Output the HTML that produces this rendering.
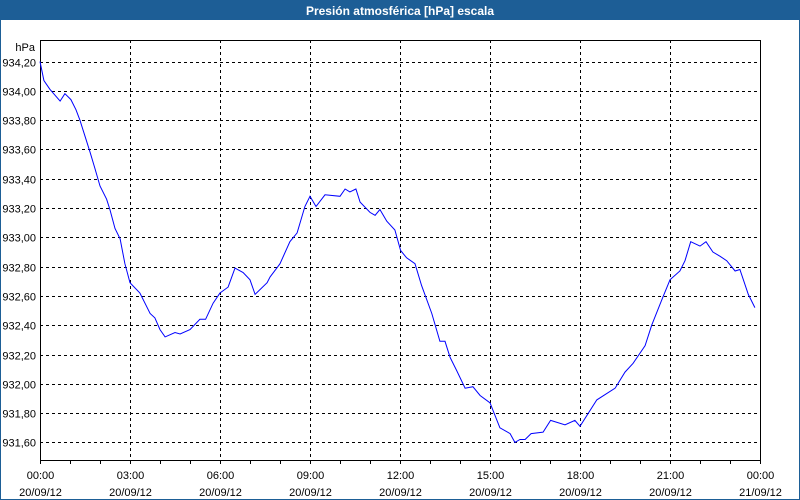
<!DOCTYPE html>
<html><head><meta charset="utf-8"><style>
body{margin:0;background:#fff}
svg{display:block;font-family:"Liberation Sans",Tahoma,sans-serif}
</style></head><body>
<svg id="c" width="800" height="500" xmlns="http://www.w3.org/2000/svg">
<rect x="0.5" y="0.5" width="799" height="499" fill="#fff" stroke="#1d5e96"/>
<rect x="0" y="0" width="800" height="20" fill="#1d5e96"/>
<text x="400" y="15" fill="#fff" font-size="12" font-weight="bold" text-anchor="middle">Presión atmosférica [hPa] escala</text>
<text x="35" y="51" font-size="11" text-anchor="end" fill="#000">hPa</text>
<g id="grid"></g>
<g id="axes"></g>
<polyline id="line" fill="none" stroke="#0000ff" stroke-width="1"/>
</svg>
<script>
const hours=[0,.13,.33,.67,.83,1.03,1.2,1.33,1.5,1.67,1.83,2,2.22,2.33,2.5,2.67,2.83,3,3.33,3.67,3.83,4,4.17,4.5,4.67,5,5.33,5.52,5.77,6,6.27,6.5,6.77,7,7.17,7.57,7.67,7.93,8,8.33,8.57,8.83,9,9.2,9.5,10,10.17,10.33,10.53,10.67,11,11.17,11.33,11.56,11.83,12.02,12.22,12.5,12.72,13.06,13.33,13.5,13.67,13.89,14.17,14.43,14.67,15,15.33,15.67,15.83,16,16.17,16.37,16.77,17.02,17.5,17.83,18,18.56,19.17,19.5,19.77,20.17,20.39,20.72,21,21.33,21.5,21.69,22,22.2,22.43,22.67,22.89,23.17,23.33,23.61,23.83];
const pressure=[934.20,934.07,934.01,933.93,933.98,933.94,933.87,933.80,933.69,933.58,933.47,933.35,933.26,933.19,933.06,932.99,932.82,932.69,932.62,932.48,932.45,932.37,932.32,932.35,932.34,932.37,932.44,932.44,932.55,932.62,932.66,932.79,932.76,932.71,932.61,932.69,932.73,932.80,932.82,932.97,933.03,933.21,933.28,933.21,933.29,933.28,933.33,933.31,933.33,933.24,933.17,933.15,933.19,933.11,933.05,932.91,932.86,932.82,932.67,932.48,932.29,932.29,932.18,932.09,931.97,931.98,931.92,931.87,931.70,931.66,931.60,931.62,931.62,931.66,931.67,931.75,931.72,931.75,931.71,931.89,931.97,932.08,932.14,932.26,932.40,932.57,932.71,932.77,932.84,932.97,932.94,932.97,932.90,932.87,932.84,932.77,932.78,932.61,932.52];
const yTicks=[934.2,934.0,933.8,933.6,933.4,933.2,933.0,932.8,932.6,932.4,932.2,932.0,931.8,931.6];
const xTickHours=[0,3,6,9,12,15,18,21,24];
const xTimeLabels=["00:00","03:00","06:00","09:00","12:00","15:00","18:00","21:00","00:00"];
const xDateLabels=["20/09/12","20/09/12","20/09/12","20/09/12","20/09/12","20/09/12","20/09/12","20/09/12","21/09/12"];
const L=40,R=760,T=40,B=460;
const xs=h=>L+h*(R-L)/24;
const ys=v=>61.5+(934.2-v)/0.2*29.3;
const NS="http://www.w3.org/2000/svg";
const grid=document.getElementById('grid'),axes=document.getElementById('axes');
function mk(tag,attrs,parent){const e=document.createElementNS(NS,tag);for(const k in attrs)e.setAttribute(k,attrs[k]);parent.appendChild(e);return e;}
yTicks.forEach(v=>{
  const y=Math.round(ys(v))+0.5;
  const g=mk('line',{x1:L,x2:R,y1:y,y2:y,stroke:'#000','stroke-dasharray':'3,3'},grid);
  
  
  const t=mk('text',{x:36,y:y+4,'font-size':11,'text-anchor':'end',fill:'#000'},axes);
  t.textContent=v.toFixed(2).replace('.',',');
  
  
});
xTickHours.forEach((h,i)=>{
  const x=Math.round(xs(h))+0.5;
  if(h>0&&h<24){
    const g=mk('line',{x1:x,x2:x,y1:T,y2:B,stroke:'#000','stroke-dasharray':'3,3'},grid);
    
    
  }
  const t1=mk('text',{x:x,y:479,'font-size':11,'text-anchor':'middle',fill:'#000'},axes);
  t1.textContent=xTimeLabels[i];
  
  
  const t2=mk('text',{x:x,y:496,'font-size':11,'text-anchor':'middle',fill:'#000'},axes);
  t2.textContent=xDateLabels[i];
  
  
});
for(let h=0;h<=24;h++){
  const x=Math.round(xs(h))+0.5;
  const m=mk('line',{x1:x,x2:x,y1:B,y2:B+4,stroke:'#000'},axes);
  
  
}
const frame=mk('rect',{x:L+0.5,y:T+0.5,width:R-L,height:B-T,fill:'none',stroke:'#000'},axes);


document.getElementById('line').setAttribute('points',hours.map((h,i)=>xs(h).toFixed(1)+','+ys(pressure[i]).toFixed(1)).join(' '));
</script>
</body></html>
